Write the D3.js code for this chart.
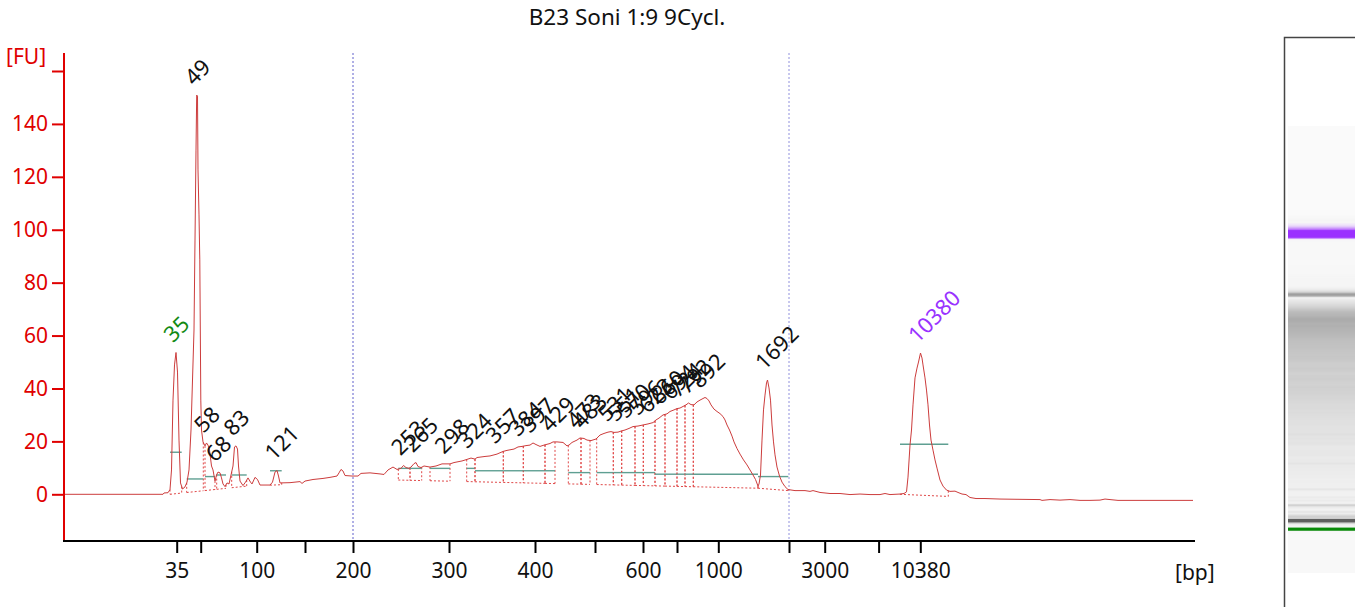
<!DOCTYPE html>
<html><head><meta charset="utf-8">
<script src="https://cdn.jsdelivr.net/npm/d3@7"></script>
<style>
html,body{margin:0;padding:0;background:#fff;}
svg{display:block;}
</style></head><body>
<svg id="chart" width="1355" height="607"></svg>
<script>
// ---------------- DATA ----------------
const title = "B23 Soni 1:9 9Cycl.";
// electropherogram trace: [migration time (s), fluorescence (FU)]
const trace = [
[30.0,0],[39.8,0],[39.9,0.5],[40.3,0.6],[40.5,1.8],[40.65,9.2],[40.8,35.6],[40.95,48.9],[41.1,53.6],[41.25,46.2],
[41.4,20.5],[41.55,4.3],[41.75,2.0],[42.0,2.8],[42.2,4.6],[42.4,9.2],[42.6,24.3],[42.75,43.2],[42.9,62.1],[43.0,96.1],
[43.1,130.1],[43.17,150.9],[43.25,150.5],[43.3,122.6],[43.4,105.6],[43.48,88.6],[43.53,62.1],[43.58,35.6],[43.65,24.3],[43.8,19.8],
[44.0,18.3],[44.15,19.4],[44.3,18.6],[44.45,16.7],[44.65,10.7],[44.8,9.2],[45.0,5.0],[45.15,7.3],[45.3,8.4],[45.5,8.1],
[45.65,6.2],[45.8,3.9],[46.0,2.9],[46.2,4.3],[46.4,3.9],[46.6,7.3],[46.8,10.7],[46.95,17.9],[47.1,18.3],[47.25,17.1],
[47.35,10.7],[47.5,5.0],[47.8,3.3],[48.05,4.6],[48.3,6.2],[48.55,4.6],[48.7,3.9],[49.0,6.4],[49.25,5.6],[49.5,3.5],
[50.5,3.5],[50.75,4.6],[51.0,8.4],[51.2,9.0],[51.35,6.9],[51.5,4.3],[52.5,4.4],[53.5,4.8],[53.7,4.1],[54.0,5.0],
[54.8,5.6],[55.8,6.0],[56.5,6.4],[57.2,6.9],[57.4,8.1],[57.6,9.4],[57.8,8.8],[58.0,7.1],[58.7,6.9],[59.3,6.9],
[59.6,7.9],[60.5,8.1],[61.5,7.7],[61.9,7.5],[62.3,9.2],[62.8,10.3],[63.2,9.4],[63.6,9.8],[63.85,10.9],[64.1,10.1],
[64.4,9.8],[64.6,10.3],[64.9,11.6],[65.1,12.0],[65.3,10.5],[65.6,10.1],[65.9,10.7],[66.5,10.3],[67.1,10.7],[67.7,11.5],
[68.5,11.5],[68.9,12.0],[69.7,12.6],[70.2,13.2],[70.6,13.7],[71.0,13.3],[71.2,13.9],[72.0,14.3],[72.5,14.5],[73.2,15.2],
[73.8,16.2],[74.2,16.6],[74.9,17.1],[75.3,17.9],[75.7,18.1],[76.1,18.4],[76.5,18.6],[76.8,19.4],[77.1,18.8],[77.5,18.1],
[77.9,18.6],[78.5,19.2],[78.8,19.8],[79.2,19.8],[79.8,19.6],[80.2,18.3],[80.4,18.6],[80.7,19.6],[81.2,20.5],[81.5,21.3],
[81.9,21.1],[82.2,20.5],[82.6,20.3],[83.1,20.9],[83.5,22.4],[83.9,23.0],[84.3,23.5],[84.6,23.7],[84.9,23.4],[85.3,23.5],
[85.6,23.9],[86.0,24.3],[86.4,24.9],[86.8,25.6],[87.3,25.8],[87.8,26.2],[88.3,26.6],[88.8,27.1],[89.1,28.1],[89.4,28.8],
[89.8,30.0],[90.2,30.4],[90.5,31.3],[90.9,31.9],[91.2,32.4],[91.5,32.6],[91.8,33.2],[92.1,33.8],[92.35,34.5],[92.6,33.9],
[92.9,33.8],[93.2,34.9],[93.5,35.6],[93.8,36.2],[94.0,36.6],[94.2,36.2],[94.4,35.3],[94.6,33.8],[94.9,32.2],[95.2,31.3],
[95.5,30.5],[95.8,29.4],[96.0,28.1],[96.2,26.2],[96.45,24.3],[96.7,22.0],[96.9,19.8],[97.2,17.3],[97.5,15.2],[97.85,13.0],
[98.2,11.1],[98.5,9.2],[98.8,7.3],[99.05,5.6],[99.3,3.1],[99.4,3.9],[99.55,7.3],[99.7,20.5],[99.85,31.9],[100.0,37.5],
[100.15,42.1],[100.25,43.2],[100.4,40.2],[100.55,35.6],[100.7,26.2],[100.85,19.8],[101.0,14.9],[101.2,10.3],[101.45,6.9],[101.7,4.6],
[102.0,2.9],[102.3,1.8],[103.0,1.4],[104.0,1.4],[104.5,1.1],[104.8,1.4],[105.5,0.7],[106.5,0.3],[107.5,0.3],[108.5,-0.1],
[109.5,0.1],[110.5,-0.1],[111.5,-0.1],[112.0,0.3],[112.5,-0.1],[113.5,0.1],[113.9,0.3],[114.15,0.9],[114.3,6.5],[114.5,18.6],
[114.65,24.3],[114.8,33.8],[115.0,44.0],[115.2,47.7],[115.35,50.0],[115.55,53.4],[115.7,51.5],[115.8,48.9],[116.0,44.0],[116.15,39.4],
[116.3,33.8],[116.45,26.2],[116.6,20.5],[116.8,16.7],[117.0,13.0],[117.2,9.9],[117.5,5.4],[117.8,3.1],[118.15,1.6],[118.5,1.1],
[119.0,1.2],[119.3,0.7],[119.7,0.1],[120.1,-0.1],[120.5,-1.2],[121.1,-1.6],[122.0,-1.6],[123.5,-1.8],[127.5,-2.0],[127.7,-2.3],
[128.5,-2.0],[129.5,-2.2],[130.5,-2.0],[131.5,-2.3],[132.5,-2.3],[133.5,-2.2],[134.0,-1.8],[134.5,-2.0],[135.3,-2.3],[136.5,-2.3],
[142.8,-2.3]
];

// ladder (x-axis ticks): size in bp and its migration time
const ladderBp   = [35, 50, 100, 150, 200, 300, 400, 500, 600, 700, 1000, 2000, 3000, 7000, 10380];
const ladderTime = [41.17, 43.57, 49.17, 54.0, 58.8, 68.4, 77.0, 83.0, 87.8, 91.2, 95.33, 102.4, 105.97, 111.36, 115.53];
const labeledBp  = [35, 100, 200, 300, 400, 600, 1000, 3000, 10380];
const regionBp   = [200, 2000];

// y axis ticks
const yTicks   = [0, 20, 40, 60, 80, 100, 120, 140, 160];
const yLabeled = [0, 20, 40, 60, 80, 100, 120, 140];

// peak table
const peakSize  = [35, 49, 58, 68, 83, 121, 253, 265, 298, 324, 357, 384, 397, 429, 473, 483, 531, 551, 570, 596, 623, 660, 694, 724, 792, 892, 1692, 10380];
const peakApexT = [41.1, 43.2, 44.15, 45.3, 47.1, 51.2, 63.85, 65.1, 68.2, 70.5, 73.3, 75.6, 76.8, 78.8, 81.4, 82.0, 84.5, 85.4, 86.4, 87.6, 88.6, 89.8, 90.9, 91.6, 92.5, 93.8, 100.25, 115.55];
const peakStart = [40.5, 42.17, 44.0, 45.17, 46.67, 50.5, 63.33, 64.5, 66.5, 70.17, 71.0, 73.83, 75.83, 78.0, 80.33, 81.6, 83.17, 84.83, 85.67, 87.0, 87.83, 89.0, 90.0, 91.2, 92.0, 92.83, 99.3, 113.5];
const peakEnd   = [41.67, 43.83, 45.0, 46.1, 48.17, 51.67, 64.5, 65.67, 68.5, 71.0, 73.83, 75.83, 78.0, 79.0, 81.6, 82.5, 84.83, 85.67, 87.0, 87.83, 89.0, 90.0, 91.2, 92.0, 92.83, 99.3, 102.33, 118.33];
const peakMidFU = [15.9, 5.8, 6.7, 7.3, 7.3, 8.9, 9.8, 9.8, 9.8, 9.8, 8.9, 8.9, 8.9, 8.9, 8.2, 8.2, 8.2, 8.2, 8.2, 8.2, 8.2, 7.6, 7.6, 7.6, 7.6, 7.6, 6.7, 18.9];

// baseline used for peak integration
const baselineT  = [40.5, 48.2, 63.3, 99.3, 102.33, 113.5, 118.33];
const baselineFU = [0.0, 3.1, 5.4, 2.3, 1.4, 0.0, -0.8];

// ---------------- DRAW ----------------
const FONT = '"Noto Sans","DejaVu Sans",sans-serif';
const RED = "#e00000";
const svg = d3.select("#chart").attr("font-family", FONT);

const x = d3.scaleLinear().domain([30, 143]).range([65, 1195]);
const y = d3.scaleLinear().domain([0, 160]).range([494.3, 71]);
const baseline = d3.scaleLinear().domain(baselineT).range(baselineFU);

const bis = d3.bisector(d => d[0]).left;
function fuAt(t) {
  const i = bis(trace, t);
  if (i <= 0) return trace[0][1];
  if (i >= trace.length) return trace[trace.length - 1][1];
  const a = trace[i - 1], b = trace[i];
  return a[1] + (b[1] - a[1]) * (t - a[0]) / (b[0] - a[0]);
}
const timeOfBp = bp => ladderTime[ladderBp.indexOf(bp)];

// title
svg.append("text").attr("x", 627).attr("y", 25).attr("text-anchor", "middle")
  .attr("font-size", 22.5).attr("fill", "#111").text(title);

// region markers
regionBp.forEach((bp, i) => {
  svg.append("line")
    .attr("x1", x(timeOfBp(bp))).attr("x2", x(timeOfBp(bp)))
    .attr("y1", 53).attr("y2", 541)
    .attr("stroke", i === 0 ? "#6060cc" : "#9090dd").attr("stroke-width", 1).attr("stroke-dasharray", "2,2");
});

// y axis
const gy = svg.append("g").attr("transform", "translate(64,0)")
  .call(d3.axisLeft(y).tickValues(yTicks)
    .tickFormat(d => yLabeled.includes(d) ? d : "").tickSize(12).tickPadding(4));
gy.select(".domain").remove();
gy.attr("font-family", FONT).attr("font-size", 21);
gy.selectAll(".tick line").attr("stroke", RED).attr("stroke-width", 2);
gy.selectAll(".tick text").attr("fill", RED);
svg.append("line").attr("x1", 64).attr("x2", 64).attr("y1", 53).attr("y2", 541)
  .attr("stroke", RED).attr("stroke-width", 2);
svg.append("text").attr("x", 6).attr("y", 64).attr("font-size", 21).attr("fill", RED).text("[FU]");

// x axis
const gx = svg.append("g").attr("transform", "translate(0,541)")
  .call(d3.axisBottom(x).tickValues(ladderTime)
    .tickFormat((d, i) => labeledBp.includes(ladderBp[i]) ? ladderBp[i] : "")
    .tickSize(12).tickPadding(10));
gx.select(".domain").remove();
gx.attr("font-family", FONT).attr("font-size", 21);
gx.selectAll(".tick line").attr("stroke", "#000").attr("stroke-width", 2);
gx.selectAll(".tick text").attr("fill", "#111");
svg.append("line").attr("x1", 63).attr("x2", 1195).attr("y1", 541).attr("y2", 541)
  .attr("stroke", "#000").attr("stroke-width", 2);
svg.append("text").attr("x", 1175).attr("y", 580).attr("font-size", 21).attr("fill", "#111").text("[bp]");

// peak integration marks
const marks = svg.append("g");
peakSize.forEach((s, i) => {
  const t0 = peakStart[i], t1 = peakEnd[i];
  const dash = { stroke: "#e04848", "stroke-width": 1, "stroke-dasharray": "2,2", fill: "none" };
  const add = (x1, y1, x2, y2, st) => {
    const l = marks.append("line").attr("x1", x1).attr("y1", y1).attr("x2", x2).attr("y2", y2);
    Object.entries(st).forEach(([k, v]) => l.attr(k, v));
  };
  add(x(t0), y(fuAt(t0)), x(t0), y(baseline(t0)), dash);
  add(x(t1), y(fuAt(t1)), x(t1), y(baseline(t1)), dash);
  add(x(t0), y(baseline(t0)), x(t1), y(baseline(t1)), dash);
  add(x(t0), y(peakMidFU[i]), x(t1), y(peakMidFU[i]), { stroke: "#5f9f92", "stroke-width": 1.4 });
});

// trace
svg.append("path").datum(trace)
  .attr("d", d3.line().x(d => x(d[0])).y(d => y(d[1])))
  .attr("fill", "none").attr("stroke", "#cc3c3c").attr("stroke-width", 1);

// peak labels
const last = peakSize.length - 1;
peakSize.forEach((s, i) => {
  const px = x(peakApexT[i]) - 3, py = y(fuAt(peakApexT[i])) - 9;
  svg.append("text")
    .attr("transform", `translate(${px},${py}) rotate(-45)`)
    .attr("font-size", 22)
    .attr("fill", i === 0 ? "#138a13" : (i === last ? "#9933ff" : "#111"))
    .text(s);
});

// gel lane
const gel = svg.append("g");
const gelY = d3.scaleLinear().domain([peakApexT[0], peakApexT[last]]).range([529, 234]);
const green = d3.interpolateRgb("#f8f8f8", "#0a8a0a");
const purple = d3.interpolateRgb("#f8f8f8", "#9b30ff");
for (let py = 37; py < 607; py++) {
  const t = gelY.invert(py + 0.5);
  if (t < trace[0][0] || t > trace[trace.length - 1][0]) continue;
  const f = fuAt(t);
  let col;
  if (t >= peakStart[0] && t <= peakEnd[0]) col = green(Math.max(0, Math.min(1, f / 28)));
  else if (t >= peakStart[last] && t <= peakEnd[last]) col = purple(Math.max(0, Math.min(1, f / 28)));
  else {
    const v = Math.round(Math.max(95, Math.min(250, 248 - 2.1 * f)));
    col = `rgb(${v},${v},${v})`;
  }
  gel.append("rect").attr("x", 1288).attr("y", py).attr("width", 67).attr("height", 1).attr("fill", col);
}
svg.append("path").attr("d", "M1284.5,607V37.5H1355")
  .attr("fill", "none").attr("stroke", "#444").attr("stroke-width", 1.5);
</script>
</body></html>
